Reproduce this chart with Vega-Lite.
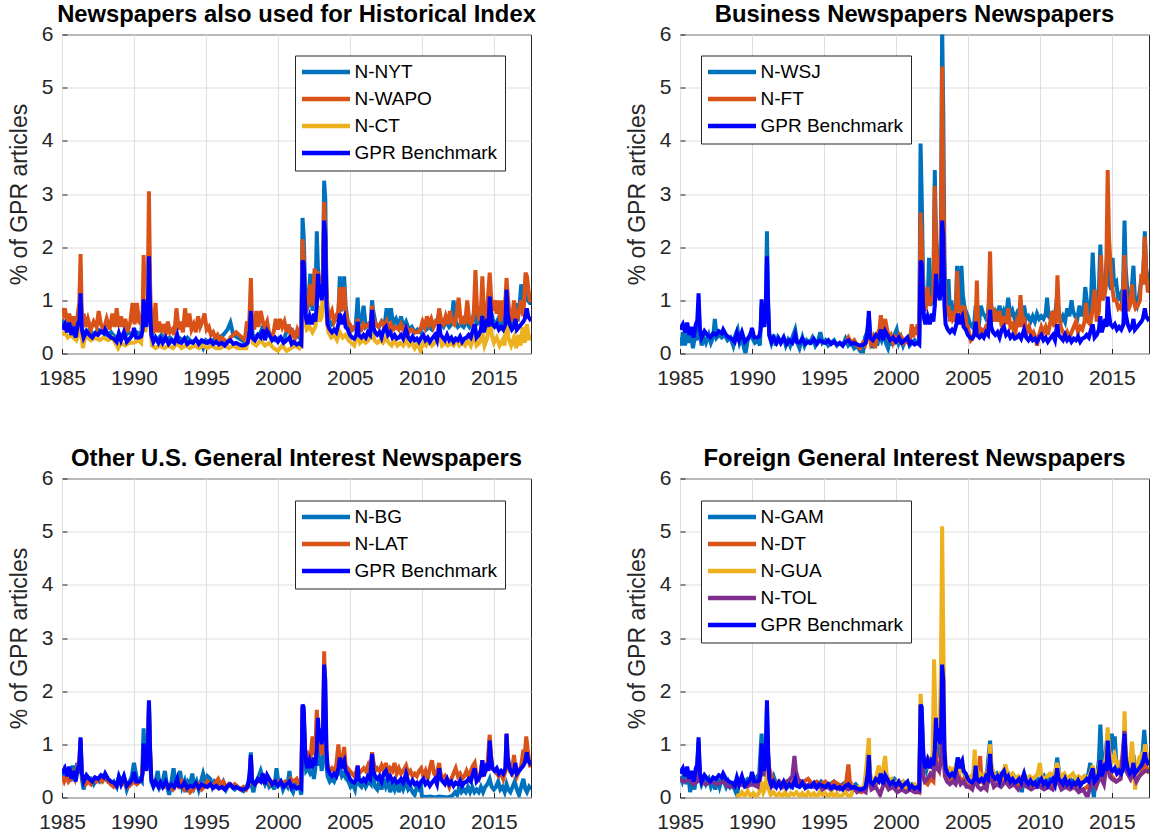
{
"$schema": "https://vega.github.io/schema/vega-lite/v6.json",
"padding": {"left": 7, "top": 2.5, "right": 0, "bottom": 0},
"background": "white",
"config": {
 "font": "Liberation Sans",
 "view": {"stroke": "#262626", "strokeWidth": 1},
 "axis": {"labelFont": "Liberation Sans", "labelFontSize": 21, "labelColor": "#262626", "ticks": true, "tickSize": -5, "tickColor": "#262626", "tickWidth": 1, "domain": false, "gridColor": "#dfdfdf", "gridWidth": 1, "titleFont": "Liberation Sans", "titleFontSize": 23, "titleFontWeight": "normal", "titleColor": "#262626", "labelFlush": false, "labelOverlap": false},
 "axisX": {"labelPadding": 19},
 "axisY": {"labelPadding": 14, "titlePadding": 10},
 "title": {"font": "Liberation Sans", "fontSize": 23.8, "fontWeight": "bold", "color": "black", "offset": -3.5, "baseline": "alphabetic"},
 "legend": {"orient": "none", "title": null, "labelFont": "Liberation Sans", "labelFontSize": 19, "labelColor": "black", "strokeColor": "#262626", "fillColor": "white", "padding": 7, "rowPadding": 7, "labelLimit": 400}
},
"datasets": {
"gpr": [
{"t":1985.0,"v":0.45},{"t":1985.2,"v":0.55},{"t":1985.35,"v":0.4},{"t":1985.5,"v":0.58},{"t":1985.65,"v":0.35},{"t":1985.8,"v":0.5},{"t":1985.95,"v":0.3},{"t":1986.1,"v":0.55},{"t":1986.2,"v":0.62},{"t":1986.29,"v":1.13},{"t":1986.38,"v":0.45},{"t":1986.5,"v":0.3},{"t":1986.7,"v":0.42},{"t":1986.9,"v":0.35},{"t":1987.1,"v":0.3},{"t":1987.3,"v":0.38},{"t":1987.5,"v":0.35},{"t":1987.7,"v":0.42},{"t":1987.9,"v":0.38},{"t":1988.0,"v":0.45},{"t":1988.2,"v":0.35},{"t":1988.4,"v":0.3},{"t":1988.6,"v":0.28},{"t":1988.8,"v":0.22},{"t":1988.95,"v":0.38},{"t":1989.1,"v":0.25},{"t":1989.3,"v":0.4},{"t":1989.5,"v":0.22},{"t":1989.7,"v":0.28},{"t":1989.9,"v":0.35},{"t":1990.0,"v":0.48},{"t":1990.15,"v":0.3},{"t":1990.35,"v":0.3},{"t":1990.5,"v":0.32},{"t":1990.6,"v":0.45},{"t":1990.67,"v":1.02},{"t":1990.75,"v":0.7},{"t":1990.85,"v":0.5},{"t":1990.96,"v":0.8},{"t":1991.04,"v":1.83},{"t":1991.12,"v":0.9},{"t":1991.2,"v":0.35},{"t":1991.35,"v":0.22},{"t":1991.5,"v":0.3},{"t":1991.7,"v":0.2},{"t":1991.85,"v":0.28},{"t":1992.0,"v":0.2},{"t":1992.2,"v":0.3},{"t":1992.4,"v":0.18},{"t":1992.6,"v":0.25},{"t":1992.8,"v":0.2},{"t":1993.0,"v":0.35},{"t":1993.1,"v":0.22},{"t":1993.3,"v":0.2},{"t":1993.5,"v":0.28},{"t":1993.7,"v":0.18},{"t":1993.9,"v":0.22},{"t":1994.1,"v":0.2},{"t":1994.3,"v":0.27},{"t":1994.5,"v":0.18},{"t":1994.7,"v":0.25},{"t":1994.9,"v":0.22},{"t":1995.1,"v":0.2},{"t":1995.3,"v":0.25},{"t":1995.5,"v":0.18},{"t":1995.7,"v":0.22},{"t":1995.9,"v":0.17},{"t":1996.1,"v":0.2},{"t":1996.3,"v":0.15},{"t":1996.5,"v":0.22},{"t":1996.7,"v":0.25},{"t":1996.9,"v":0.18},{"t":1997.1,"v":0.2},{"t":1997.3,"v":0.17},{"t":1997.5,"v":0.15},{"t":1997.7,"v":0.16},{"t":1997.9,"v":0.2},{"t":1998.04,"v":0.45},{"t":1998.12,"v":0.8},{"t":1998.2,"v":0.3},{"t":1998.4,"v":0.25},{"t":1998.6,"v":0.35},{"t":1998.8,"v":0.3},{"t":1998.95,"v":0.45},{"t":1999.1,"v":0.25},{"t":1999.25,"v":0.42},{"t":1999.4,"v":0.35},{"t":1999.6,"v":0.25},{"t":1999.8,"v":0.3},{"t":2000.0,"v":0.22},{"t":2000.2,"v":0.3},{"t":2000.4,"v":0.2},{"t":2000.6,"v":0.25},{"t":2000.8,"v":0.3},{"t":2000.95,"v":0.18},{"t":2001.1,"v":0.22},{"t":2001.3,"v":0.17},{"t":2001.5,"v":0.2},{"t":2001.62,"v":0.17},{"t":2001.71,"v":1.75},{"t":2001.79,"v":1.7},{"t":2001.88,"v":0.95},{"t":2001.96,"v":0.65},{"t":2002.05,"v":0.55},{"t":2002.2,"v":0.7},{"t":2002.35,"v":0.55},{"t":2002.5,"v":0.75},{"t":2002.6,"v":0.6},{"t":2002.7,"v":0.9},{"t":2002.78,"v":1.5},{"t":2002.87,"v":1.05},{"t":2002.96,"v":1.3},{"t":2003.04,"v":1.0},{"t":2003.13,"v":1.2},{"t":2003.21,"v":2.5},{"t":2003.29,"v":2.2},{"t":2003.37,"v":0.9},{"t":2003.45,"v":0.55},{"t":2003.6,"v":0.45},{"t":2003.75,"v":0.4},{"t":2003.9,"v":0.45},{"t":2004.05,"v":0.4},{"t":2004.2,"v":0.55},{"t":2004.3,"v":0.75},{"t":2004.4,"v":0.55},{"t":2004.5,"v":0.65},{"t":2004.6,"v":0.7},{"t":2004.7,"v":0.5},{"t":2004.85,"v":0.45},{"t":2005.0,"v":0.35},{"t":2005.15,"v":0.3},{"t":2005.3,"v":0.28},{"t":2005.45,"v":0.35},{"t":2005.54,"v":0.6},{"t":2005.62,"v":0.35},{"t":2005.8,"v":0.3},{"t":2005.95,"v":0.35},{"t":2006.1,"v":0.3},{"t":2006.25,"v":0.4},{"t":2006.4,"v":0.35},{"t":2006.54,"v":0.82},{"t":2006.62,"v":0.5},{"t":2006.75,"v":0.4},{"t":2006.9,"v":0.35},{"t":2007.05,"v":0.4},{"t":2007.2,"v":0.3},{"t":2007.35,"v":0.45},{"t":2007.5,"v":0.5},{"t":2007.65,"v":0.35},{"t":2007.8,"v":0.4},{"t":2007.95,"v":0.3},{"t":2008.1,"v":0.35},{"t":2008.25,"v":0.28},{"t":2008.4,"v":0.3},{"t":2008.55,"v":0.35},{"t":2008.7,"v":0.28},{"t":2008.9,"v":0.45},{"t":2009.05,"v":0.3},{"t":2009.2,"v":0.25},{"t":2009.35,"v":0.32},{"t":2009.5,"v":0.25},{"t":2009.65,"v":0.28},{"t":2009.8,"v":0.22},{"t":2009.95,"v":0.3},{"t":2010.1,"v":0.35},{"t":2010.25,"v":0.25},{"t":2010.4,"v":0.3},{"t":2010.55,"v":0.22},{"t":2010.7,"v":0.28},{"t":2010.9,"v":0.35},{"t":2011.05,"v":0.25},{"t":2011.2,"v":0.55},{"t":2011.3,"v":0.35},{"t":2011.45,"v":0.3},{"t":2011.6,"v":0.25},{"t":2011.75,"v":0.35},{"t":2011.9,"v":0.25},{"t":2012.05,"v":0.3},{"t":2012.2,"v":0.22},{"t":2012.35,"v":0.28},{"t":2012.5,"v":0.25},{"t":2012.65,"v":0.32},{"t":2012.8,"v":0.22},{"t":2012.95,"v":0.28},{"t":2013.1,"v":0.3},{"t":2013.25,"v":0.35},{"t":2013.4,"v":0.3},{"t":2013.55,"v":0.45},{"t":2013.67,"v":0.55},{"t":2013.8,"v":0.3},{"t":2013.95,"v":0.35},{"t":2014.1,"v":0.45},{"t":2014.2,"v":0.7},{"t":2014.3,"v":0.4},{"t":2014.45,"v":0.55},{"t":2014.55,"v":0.65},{"t":2014.63,"v":0.5},{"t":2014.71,"v":1.07},{"t":2014.8,"v":0.75},{"t":2014.9,"v":0.55},{"t":2015.05,"v":0.5},{"t":2015.2,"v":0.55},{"t":2015.35,"v":0.45},{"t":2015.5,"v":0.5},{"t":2015.65,"v":0.45},{"t":2015.8,"v":0.55},{"t":2015.88,"v":1.2},{"t":2015.96,"v":0.75},{"t":2016.1,"v":0.55},{"t":2016.25,"v":0.45},{"t":2016.4,"v":0.5},{"t":2016.5,"v":0.65},{"t":2016.6,"v":0.45},{"t":2016.75,"v":0.5},{"t":2016.9,"v":0.55},{"t":2017.05,"v":0.6},{"t":2017.15,"v":0.65},{"t":2017.29,"v":0.85},{"t":2017.38,"v":0.7},{"t":2017.5,"v":0.65},{"t":2017.58,"v":0.68}
],
"nyt": [
{"t":1985.0,"v":0.65},{"t":1985.2,"v":0.5},{"t":1985.4,"v":0.6},{"t":1985.6,"v":0.45},{"t":1985.8,"v":0.55},{"t":1986.0,"v":0.4},{"t":1986.2,"v":0.6},{"t":1986.29,"v":1.15},{"t":1986.4,"v":0.45},{"t":1986.6,"v":0.35},{"t":1986.9,"v":0.45},{"t":1987.2,"v":0.35},{"t":1987.5,"v":0.45},{"t":1987.8,"v":0.4},{"t":1988.1,"v":0.35},{"t":1988.4,"v":0.4},{"t":1988.7,"v":0.3},{"t":1989.0,"v":0.35},{"t":1989.3,"v":0.3},{"t":1989.6,"v":0.4},{"t":1989.9,"v":0.35},{"t":1990.2,"v":0.4},{"t":1990.5,"v":0.35},{"t":1990.67,"v":1.0},{"t":1990.8,"v":0.55},{"t":1990.96,"v":0.7},{"t":1991.04,"v":1.75},{"t":1991.15,"v":0.7},{"t":1991.3,"v":0.3},{"t":1991.6,"v":0.25},{"t":1991.9,"v":0.35},{"t":1992.2,"v":0.25},{"t":1992.5,"v":0.3},{"t":1992.8,"v":0.22},{"t":1993.1,"v":0.3},{"t":1993.4,"v":0.25},{"t":1993.7,"v":0.3},{"t":1994.0,"v":0.22},{"t":1994.3,"v":0.25},{"t":1994.6,"v":0.2},{"t":1994.8,"v":0.1},{"t":1995.0,"v":0.25},{"t":1995.3,"v":0.2},{"t":1995.6,"v":0.28},{"t":1995.9,"v":0.3},{"t":1996.2,"v":0.35},{"t":1996.5,"v":0.45},{"t":1996.7,"v":0.58},{"t":1996.9,"v":0.35},{"t":1997.2,"v":0.3},{"t":1997.5,"v":0.25},{"t":1997.8,"v":0.2},{"t":1998.04,"v":0.4},{"t":1998.12,"v":0.75},{"t":1998.25,"v":0.35},{"t":1998.5,"v":0.3},{"t":1998.8,"v":0.4},{"t":1998.95,"v":0.5},{"t":1999.25,"v":0.45},{"t":1999.5,"v":0.35},{"t":1999.8,"v":0.25},{"t":2000.1,"v":0.3},{"t":2000.4,"v":0.25},{"t":2000.7,"v":0.5},{"t":2000.95,"v":0.45},{"t":2001.2,"v":0.35},{"t":2001.5,"v":0.3},{"t":2001.62,"v":0.25},{"t":2001.71,"v":2.55},{"t":2001.79,"v":2.2},{"t":2001.88,"v":1.3},{"t":2001.96,"v":0.8},{"t":2002.1,"v":0.9},{"t":2002.25,"v":1.5},{"t":2002.4,"v":0.8},{"t":2002.5,"v":1.5},{"t":2002.6,"v":0.9},{"t":2002.7,"v":2.3},{"t":2002.78,"v":1.6},{"t":2002.87,"v":1.1},{"t":2002.96,"v":1.4},{"t":2003.04,"v":1.3},{"t":2003.13,"v":1.5},{"t":2003.21,"v":3.25},{"t":2003.29,"v":2.9},{"t":2003.37,"v":1.2},{"t":2003.45,"v":0.8},{"t":2003.6,"v":0.6},{"t":2003.75,"v":0.55},{"t":2003.9,"v":0.6},{"t":2004.05,"v":0.65},{"t":2004.2,"v":0.7},{"t":2004.3,"v":1.45},{"t":2004.4,"v":0.8},{"t":2004.5,"v":0.9},{"t":2004.6,"v":1.45},{"t":2004.7,"v":0.9},{"t":2004.85,"v":0.6},{"t":2005.0,"v":0.5},{"t":2005.2,"v":0.45},{"t":2005.4,"v":0.5},{"t":2005.54,"v":1.05},{"t":2005.62,"v":0.55},{"t":2005.8,"v":0.6},{"t":2005.95,"v":0.9},{"t":2006.1,"v":0.5},{"t":2006.3,"v":0.55},{"t":2006.45,"v":0.6},{"t":2006.54,"v":1.0},{"t":2006.62,"v":0.8},{"t":2006.8,"v":0.55},{"t":2007.0,"v":0.5},{"t":2007.2,"v":0.6},{"t":2007.4,"v":0.5},{"t":2007.55,"v":0.85},{"t":2007.7,"v":0.6},{"t":2007.85,"v":0.85},{"t":2008.0,"v":0.55},{"t":2008.2,"v":0.65},{"t":2008.4,"v":0.5},{"t":2008.55,"v":0.7},{"t":2008.7,"v":0.5},{"t":2008.9,"v":0.6},{"t":2009.1,"v":0.45},{"t":2009.3,"v":0.5},{"t":2009.5,"v":0.4},{"t":2009.7,"v":0.45},{"t":2009.9,"v":0.4},{"t":2010.1,"v":0.55},{"t":2010.3,"v":0.45},{"t":2010.5,"v":0.5},{"t":2010.7,"v":0.45},{"t":2010.9,"v":0.55},{"t":2011.1,"v":0.6},{"t":2011.2,"v":0.8},{"t":2011.35,"v":0.55},{"t":2011.5,"v":0.5},{"t":2011.7,"v":0.6},{"t":2011.9,"v":0.5},{"t":2012.05,"v":0.55},{"t":2012.2,"v":1.0},{"t":2012.35,"v":0.6},{"t":2012.5,"v":0.5},{"t":2012.7,"v":0.55},{"t":2012.9,"v":0.5},{"t":2013.1,"v":0.6},{"t":2013.3,"v":0.5},{"t":2013.5,"v":0.6},{"t":2013.67,"v":0.85},{"t":2013.8,"v":0.55},{"t":2014.0,"v":0.6},{"t":2014.2,"v":0.75},{"t":2014.35,"v":0.55},{"t":2014.55,"v":0.7},{"t":2014.71,"v":1.05},{"t":2014.8,"v":0.8},{"t":2014.95,"v":0.6},{"t":2015.1,"v":0.55},{"t":2015.3,"v":0.65},{"t":2015.5,"v":0.55},{"t":2015.7,"v":0.6},{"t":2015.88,"v":1.2},{"t":2016.0,"v":0.8},{"t":2016.15,"v":0.6},{"t":2016.3,"v":0.55},{"t":2016.5,"v":0.95},{"t":2016.65,"v":0.6},{"t":2016.8,"v":0.95},{"t":2016.9,"v":1.3},{"t":2017.05,"v":1.0},{"t":2017.2,"v":1.1},{"t":2017.35,"v":1.0},{"t":2017.5,"v":0.95},{"t":2017.58,"v":0.95}
],
"wapo": [
{"t":1985.0,"v":0.85},{"t":1985.1,"v":0.75},{"t":1985.2,"v":0.85},{"t":1985.35,"v":0.6},{"t":1985.5,"v":0.75},{"t":1985.65,"v":0.55},{"t":1985.8,"v":0.7},{"t":1985.95,"v":0.5},{"t":1986.1,"v":0.75},{"t":1986.2,"v":0.95},{"t":1986.29,"v":1.87},{"t":1986.38,"v":0.6},{"t":1986.5,"v":0.75},{"t":1986.65,"v":0.5},{"t":1986.8,"v":0.65},{"t":1987.0,"v":0.45},{"t":1987.2,"v":0.6},{"t":1987.4,"v":0.5},{"t":1987.55,"v":0.8},{"t":1987.7,"v":0.55},{"t":1987.9,"v":0.45},{"t":1988.1,"v":0.65},{"t":1988.3,"v":0.45},{"t":1988.5,"v":0.75},{"t":1988.65,"v":0.5},{"t":1988.8,"v":0.85},{"t":1988.95,"v":0.5},{"t":1989.1,"v":0.7},{"t":1989.25,"v":0.5},{"t":1989.4,"v":0.65},{"t":1989.55,"v":0.4},{"t":1989.75,"v":0.6},{"t":1989.9,"v":0.95},{"t":1990.05,"v":0.55},{"t":1990.2,"v":0.95},{"t":1990.35,"v":0.6},{"t":1990.5,"v":0.55},{"t":1990.6,"v":0.75},{"t":1990.67,"v":1.85},{"t":1990.75,"v":1.1},{"t":1990.85,"v":0.8},{"t":1990.96,"v":1.2},{"t":1991.04,"v":3.05},{"t":1991.12,"v":1.3},{"t":1991.2,"v":0.5},{"t":1991.35,"v":0.45},{"t":1991.5,"v":0.95},{"t":1991.6,"v":0.4},{"t":1991.75,"v":0.6},{"t":1991.9,"v":0.4},{"t":1992.05,"v":0.55},{"t":1992.2,"v":0.35},{"t":1992.35,"v":0.6},{"t":1992.5,"v":0.4},{"t":1992.65,"v":0.45},{"t":1992.8,"v":0.35},{"t":1992.95,"v":0.85},{"t":1993.1,"v":0.45},{"t":1993.25,"v":0.6},{"t":1993.4,"v":0.4},{"t":1993.55,"v":0.85},{"t":1993.7,"v":0.5},{"t":1993.85,"v":0.75},{"t":1994.0,"v":0.45},{"t":1994.15,"v":0.55},{"t":1994.3,"v":0.4},{"t":1994.45,"v":0.7},{"t":1994.6,"v":0.5},{"t":1994.75,"v":0.6},{"t":1994.9,"v":0.75},{"t":1995.05,"v":0.45},{"t":1995.2,"v":0.5},{"t":1995.35,"v":0.35},{"t":1995.5,"v":0.4},{"t":1995.65,"v":0.3},{"t":1995.8,"v":0.35},{"t":1995.95,"v":0.25},{"t":1996.1,"v":0.3},{"t":1996.3,"v":0.25},{"t":1996.5,"v":0.2},{"t":1996.7,"v":0.3},{"t":1996.9,"v":0.35},{"t":1997.1,"v":0.4},{"t":1997.3,"v":0.35},{"t":1997.5,"v":0.3},{"t":1997.7,"v":0.25},{"t":1997.85,"v":0.6},{"t":1998.0,"v":0.5},{"t":1998.12,"v":1.42},{"t":1998.2,"v":0.6},{"t":1998.35,"v":0.45},{"t":1998.5,"v":0.8},{"t":1998.65,"v":0.5},{"t":1998.8,"v":0.8},{"t":1998.95,"v":0.6},{"t":1999.1,"v":0.5},{"t":1999.25,"v":0.6},{"t":1999.4,"v":0.35},{"t":1999.55,"v":0.3},{"t":1999.7,"v":0.4},{"t":1999.85,"v":0.65},{"t":2000.0,"v":0.45},{"t":2000.15,"v":0.65},{"t":2000.3,"v":0.5},{"t":2000.45,"v":0.6},{"t":2000.6,"v":0.4},{"t":2000.75,"v":0.55},{"t":2000.9,"v":0.3},{"t":2001.05,"v":0.4},{"t":2001.2,"v":0.3},{"t":2001.35,"v":0.45},{"t":2001.5,"v":0.35},{"t":2001.62,"v":0.3},{"t":2001.71,"v":2.15},{"t":2001.79,"v":1.8},{"t":2001.88,"v":1.0},{"t":2001.96,"v":0.8},{"t":2002.1,"v":0.95},{"t":2002.25,"v":1.3},{"t":2002.4,"v":0.9},{"t":2002.55,"v":1.6},{"t":2002.65,"v":1.0},{"t":2002.75,"v":1.55},{"t":2002.87,"v":1.2},{"t":2002.96,"v":1.35},{"t":2003.04,"v":1.25},{"t":2003.13,"v":1.6},{"t":2003.21,"v":2.85},{"t":2003.29,"v":2.3},{"t":2003.37,"v":1.2},{"t":2003.45,"v":0.8},{"t":2003.6,"v":0.7},{"t":2003.75,"v":0.8},{"t":2003.9,"v":0.6},{"t":2004.05,"v":0.7},{"t":2004.2,"v":0.8},{"t":2004.3,"v":1.25},{"t":2004.4,"v":0.85},{"t":2004.5,"v":0.9},{"t":2004.6,"v":1.25},{"t":2004.7,"v":0.8},{"t":2004.85,"v":0.6},{"t":2005.0,"v":0.55},{"t":2005.15,"v":0.45},{"t":2005.3,"v":0.5},{"t":2005.45,"v":0.5},{"t":2005.54,"v":0.65},{"t":2005.62,"v":0.5},{"t":2005.8,"v":0.45},{"t":2005.95,"v":0.55},{"t":2006.1,"v":0.5},{"t":2006.3,"v":0.55},{"t":2006.45,"v":0.45},{"t":2006.54,"v":0.9},{"t":2006.62,"v":0.65},{"t":2006.8,"v":0.55},{"t":2007.0,"v":0.5},{"t":2007.2,"v":0.6},{"t":2007.4,"v":0.5},{"t":2007.55,"v":0.6},{"t":2007.7,"v":0.45},{"t":2007.85,"v":0.55},{"t":2008.0,"v":0.45},{"t":2008.2,"v":0.5},{"t":2008.4,"v":0.45},{"t":2008.55,"v":0.55},{"t":2008.7,"v":0.45},{"t":2008.9,"v":0.5},{"t":2009.1,"v":0.4},{"t":2009.3,"v":0.45},{"t":2009.5,"v":0.4},{"t":2009.7,"v":0.4},{"t":2009.9,"v":0.45},{"t":2010.05,"v":0.6},{"t":2010.2,"v":0.5},{"t":2010.35,"v":0.7},{"t":2010.5,"v":0.55},{"t":2010.65,"v":0.65},{"t":2010.8,"v":0.5},{"t":2010.95,"v":0.6},{"t":2011.1,"v":0.55},{"t":2011.2,"v":0.85},{"t":2011.35,"v":0.6},{"t":2011.5,"v":0.55},{"t":2011.65,"v":0.7},{"t":2011.8,"v":0.55},{"t":2011.95,"v":0.8},{"t":2012.1,"v":0.6},{"t":2012.25,"v":0.55},{"t":2012.4,"v":0.7},{"t":2012.55,"v":1.05},{"t":2012.7,"v":0.6},{"t":2012.85,"v":0.65},{"t":2013.0,"v":0.55},{"t":2013.15,"v":1.0},{"t":2013.3,"v":0.6},{"t":2013.45,"v":0.55},{"t":2013.6,"v":0.7},{"t":2013.72,"v":1.57},{"t":2013.82,"v":0.9},{"t":2013.95,"v":0.7},{"t":2014.1,"v":0.8},{"t":2014.2,"v":1.45},{"t":2014.3,"v":0.8},{"t":2014.45,"v":0.6},{"t":2014.55,"v":0.9},{"t":2014.71,"v":1.52},{"t":2014.8,"v":1.1},{"t":2014.9,"v":0.8},{"t":2015.05,"v":1.0},{"t":2015.2,"v":0.75},{"t":2015.3,"v":1.0},{"t":2015.45,"v":0.6},{"t":2015.6,"v":1.0},{"t":2015.75,"v":0.7},{"t":2015.88,"v":1.42},{"t":2015.96,"v":1.1},{"t":2016.1,"v":0.7},{"t":2016.25,"v":0.6},{"t":2016.4,"v":1.0},{"t":2016.5,"v":0.7},{"t":2016.6,"v":0.6},{"t":2016.75,"v":0.8},{"t":2016.9,"v":1.0},{"t":2017.05,"v":0.7},{"t":2017.2,"v":1.52},{"t":2017.3,"v":1.45},{"t":2017.4,"v":1.2},{"t":2017.5,"v":1.0},{"t":2017.58,"v":1.0}
],
"ct": [
{"t":1985.0,"v":0.35},{"t":1985.2,"v":0.4},{"t":1985.4,"v":0.3},{"t":1985.6,"v":0.35},{"t":1985.8,"v":0.3},{"t":1986.0,"v":0.25},{"t":1986.15,"v":0.35},{"t":1986.29,"v":1.1},{"t":1986.38,"v":0.3},{"t":1986.45,"v":0.1},{"t":1986.6,"v":0.3},{"t":1986.8,"v":0.3},{"t":1987.0,"v":0.25},{"t":1987.3,"v":0.3},{"t":1987.6,"v":0.25},{"t":1987.9,"v":0.3},{"t":1988.2,"v":0.25},{"t":1988.5,"v":0.3},{"t":1988.7,"v":0.2},{"t":1988.9,"v":0.1},{"t":1989.1,"v":0.2},{"t":1989.4,"v":0.15},{"t":1989.7,"v":0.2},{"t":1990.0,"v":0.2},{"t":1990.3,"v":0.25},{"t":1990.5,"v":0.2},{"t":1990.67,"v":0.85},{"t":1990.8,"v":0.4},{"t":1991.04,"v":1.7},{"t":1991.15,"v":0.5},{"t":1991.25,"v":0.15},{"t":1991.5,"v":0.1},{"t":1991.8,"v":0.15},{"t":1992.1,"v":0.1},{"t":1992.4,"v":0.15},{"t":1992.7,"v":0.1},{"t":1993.0,"v":0.2},{"t":1993.3,"v":0.1},{"t":1993.6,"v":0.15},{"t":1993.9,"v":0.1},{"t":1994.2,"v":0.15},{"t":1994.5,"v":0.1},{"t":1994.8,"v":0.15},{"t":1995.1,"v":0.1},{"t":1995.4,"v":0.15},{"t":1995.7,"v":0.1},{"t":1996.0,"v":0.1},{"t":1996.3,"v":0.15},{"t":1996.6,"v":0.1},{"t":1996.9,"v":0.15},{"t":1997.2,"v":0.1},{"t":1997.5,"v":0.1},{"t":1997.8,"v":0.1},{"t":1998.12,"v":0.6},{"t":1998.25,"v":0.2},{"t":1998.5,"v":0.15},{"t":1998.8,"v":0.25},{"t":1999.1,"v":0.15},{"t":1999.4,"v":0.2},{"t":1999.7,"v":0.1},{"t":2000.0,"v":0.05},{"t":2000.3,"v":0.15},{"t":2000.6,"v":0.05},{"t":2000.9,"v":0.1},{"t":2001.2,"v":0.15},{"t":2001.5,"v":0.1},{"t":2001.62,"v":0.15},{"t":2001.71,"v":1.55},{"t":2001.79,"v":1.4},{"t":2001.88,"v":0.6},{"t":2002.0,"v":0.45},{"t":2002.2,"v":0.5},{"t":2002.4,"v":0.4},{"t":2002.6,"v":0.5},{"t":2002.78,"v":0.9},{"t":2002.9,"v":0.6},{"t":2003.05,"v":0.7},{"t":2003.21,"v":2.0},{"t":2003.29,"v":1.6},{"t":2003.4,"v":0.6},{"t":2003.5,"v":0.4},{"t":2003.7,"v":0.3},{"t":2003.9,"v":0.35},{"t":2004.1,"v":0.25},{"t":2004.3,"v":0.4},{"t":2004.5,"v":0.3},{"t":2004.7,"v":0.35},{"t":2004.9,"v":0.25},{"t":2005.1,"v":0.2},{"t":2005.3,"v":0.15},{"t":2005.54,"v":0.4},{"t":2005.7,"v":0.2},{"t":2005.9,"v":0.25},{"t":2006.1,"v":0.2},{"t":2006.3,"v":0.25},{"t":2006.54,"v":0.5},{"t":2006.7,"v":0.25},{"t":2006.9,"v":0.2},{"t":2007.1,"v":0.25},{"t":2007.3,"v":0.2},{"t":2007.5,"v":0.3},{"t":2007.7,"v":0.2},{"t":2007.9,"v":0.15},{"t":2008.1,"v":0.25},{"t":2008.3,"v":0.15},{"t":2008.5,"v":0.2},{"t":2008.7,"v":0.15},{"t":2008.9,"v":0.25},{"t":2009.1,"v":0.15},{"t":2009.3,"v":0.2},{"t":2009.5,"v":0.1},{"t":2009.7,"v":0.2},{"t":2009.9,"v":0.05},{"t":2010.1,"v":0.2},{"t":2010.3,"v":0.15},{"t":2010.5,"v":0.25},{"t":2010.7,"v":0.15},{"t":2010.9,"v":0.2},{"t":2011.2,"v":0.35},{"t":2011.4,"v":0.15},{"t":2011.6,"v":0.2},{"t":2011.8,"v":0.15},{"t":2012.0,"v":0.2},{"t":2012.2,"v":0.15},{"t":2012.4,"v":0.25},{"t":2012.6,"v":0.15},{"t":2012.8,"v":0.2},{"t":2013.0,"v":0.15},{"t":2013.2,"v":0.25},{"t":2013.4,"v":0.15},{"t":2013.67,"v":0.35},{"t":2013.8,"v":0.15},{"t":2014.0,"v":0.2},{"t":2014.2,"v":0.4},{"t":2014.35,"v":0.15},{"t":2014.55,"v":0.3},{"t":2014.71,"v":0.8},{"t":2014.85,"v":0.35},{"t":2015.0,"v":0.2},{"t":2015.2,"v":0.3},{"t":2015.4,"v":0.15},{"t":2015.6,"v":0.25},{"t":2015.75,"v":0.15},{"t":2015.88,"v":0.9},{"t":2016.0,"v":0.3},{"t":2016.2,"v":0.15},{"t":2016.4,"v":0.3},{"t":2016.55,"v":0.1},{"t":2016.7,"v":0.35},{"t":2016.85,"v":0.15},{"t":2017.0,"v":0.5},{"t":2017.15,"v":0.2},{"t":2017.3,"v":0.55},{"t":2017.45,"v":0.25},{"t":2017.58,"v":0.35}
],
"wsj": [
{"t":1985.0,"v":0.3},{"t":1985.1,"v":0.15},{"t":1985.2,"v":0.4},{"t":1985.35,"v":0.15},{"t":1985.5,"v":0.45},{"t":1985.6,"v":0.2},{"t":1985.75,"v":0.4},{"t":1985.9,"v":0.1},{"t":1986.05,"v":0.35},{"t":1986.2,"v":0.25},{"t":1986.29,"v":0.95},{"t":1986.38,"v":0.4},{"t":1986.5,"v":0.15},{"t":1986.65,"v":0.3},{"t":1986.8,"v":0.2},{"t":1987.0,"v":0.35},{"t":1987.15,"v":0.2},{"t":1987.3,"v":0.3},{"t":1987.42,"v":0.65},{"t":1987.55,"v":0.3},{"t":1987.7,"v":0.35},{"t":1987.9,"v":0.3},{"t":1988.1,"v":0.35},{"t":1988.3,"v":0.25},{"t":1988.5,"v":0.3},{"t":1988.7,"v":0.15},{"t":1988.85,"v":0.35},{"t":1989.0,"v":0.45},{"t":1989.15,"v":0.2},{"t":1989.3,"v":0.3},{"t":1989.45,"v":0.1},{"t":1989.55,"v":0.0},{"t":1989.7,"v":0.25},{"t":1989.85,"v":0.35},{"t":1990.0,"v":0.3},{"t":1990.2,"v":0.2},{"t":1990.4,"v":0.25},{"t":1990.55,"v":0.15},{"t":1990.67,"v":0.9},{"t":1990.75,"v":0.6},{"t":1990.85,"v":0.5},{"t":1990.96,"v":0.9},{"t":1991.04,"v":2.3},{"t":1991.12,"v":1.0},{"t":1991.2,"v":0.35},{"t":1991.35,"v":0.2},{"t":1991.5,"v":0.35},{"t":1991.65,"v":0.15},{"t":1991.8,"v":0.3},{"t":1992.0,"v":0.2},{"t":1992.2,"v":0.3},{"t":1992.35,"v":0.15},{"t":1992.5,"v":0.25},{"t":1992.65,"v":0.15},{"t":1992.8,"v":0.3},{"t":1993.0,"v":0.45},{"t":1993.15,"v":0.2},{"t":1993.3,"v":0.1},{"t":1993.5,"v":0.3},{"t":1993.65,"v":0.15},{"t":1993.8,"v":0.25},{"t":1994.0,"v":0.2},{"t":1994.2,"v":0.3},{"t":1994.4,"v":0.15},{"t":1994.6,"v":0.25},{"t":1994.75,"v":0.4},{"t":1994.9,"v":0.2},{"t":1995.1,"v":0.25},{"t":1995.3,"v":0.15},{"t":1995.5,"v":0.2},{"t":1995.7,"v":0.25},{"t":1995.9,"v":0.15},{"t":1996.1,"v":0.2},{"t":1996.3,"v":0.15},{"t":1996.5,"v":0.28},{"t":1996.7,"v":0.15},{"t":1996.9,"v":0.2},{"t":1997.1,"v":0.1},{"t":1997.3,"v":0.15},{"t":1997.5,"v":0.05},{"t":1997.7,"v":0.0},{"t":1997.85,"v":0.3},{"t":1998.0,"v":0.4},{"t":1998.12,"v":0.7},{"t":1998.25,"v":0.3},{"t":1998.4,"v":0.1},{"t":1998.55,"v":0.3},{"t":1998.7,"v":0.15},{"t":1998.85,"v":0.35},{"t":1999.0,"v":0.25},{"t":1999.15,"v":0.4},{"t":1999.3,"v":0.2},{"t":1999.45,"v":0.1},{"t":1999.6,"v":0.3},{"t":1999.75,"v":0.15},{"t":1999.9,"v":0.35},{"t":2000.05,"v":0.45},{"t":2000.2,"v":0.2},{"t":2000.35,"v":0.3},{"t":2000.5,"v":0.15},{"t":2000.65,"v":0.25},{"t":2000.8,"v":0.3},{"t":2000.95,"v":0.15},{"t":2001.1,"v":0.2},{"t":2001.3,"v":0.25},{"t":2001.45,"v":0.2},{"t":2001.62,"v":0.2},{"t":2001.71,"v":3.95},{"t":2001.79,"v":3.0},{"t":2001.88,"v":1.5},{"t":2001.96,"v":0.9},{"t":2002.05,"v":1.2},{"t":2002.2,"v":0.9},{"t":2002.3,"v":1.8},{"t":2002.4,"v":0.9},{"t":2002.5,"v":1.0},{"t":2002.6,"v":1.2},{"t":2002.7,"v":3.45},{"t":2002.78,"v":2.2},{"t":2002.87,"v":1.3},{"t":2002.96,"v":1.6},{"t":2003.04,"v":1.4},{"t":2003.13,"v":2.5},{"t":2003.21,"v":6.2},{"t":2003.29,"v":4.5},{"t":2003.37,"v":1.8},{"t":2003.45,"v":1.0},{"t":2003.55,"v":0.8},{"t":2003.65,"v":1.4},{"t":2003.75,"v":0.8},{"t":2003.85,"v":1.0},{"t":2003.95,"v":0.7},{"t":2004.05,"v":0.9},{"t":2004.15,"v":0.8},{"t":2004.25,"v":1.65},{"t":2004.35,"v":1.0},{"t":2004.45,"v":0.9},{"t":2004.55,"v":1.65},{"t":2004.65,"v":1.1},{"t":2004.75,"v":0.9},{"t":2004.85,"v":0.8},{"t":2005.0,"v":0.7},{"t":2005.15,"v":0.55},{"t":2005.3,"v":0.5},{"t":2005.45,"v":0.6},{"t":2005.54,"v":0.9},{"t":2005.62,"v":0.7},{"t":2005.75,"v":0.5},{"t":2005.9,"v":0.9},{"t":2006.05,"v":0.75},{"t":2006.2,"v":0.7},{"t":2006.35,"v":0.6},{"t":2006.54,"v":1.2},{"t":2006.62,"v":0.9},{"t":2006.75,"v":0.7},{"t":2006.9,"v":0.8},{"t":2007.05,"v":0.75},{"t":2007.2,"v":0.9},{"t":2007.35,"v":0.65},{"t":2007.5,"v":0.8},{"t":2007.65,"v":0.7},{"t":2007.8,"v":1.05},{"t":2007.95,"v":0.7},{"t":2008.1,"v":0.8},{"t":2008.25,"v":0.65},{"t":2008.4,"v":0.75},{"t":2008.55,"v":0.6},{"t":2008.7,"v":0.7},{"t":2008.9,"v":0.9},{"t":2009.05,"v":0.65},{"t":2009.2,"v":0.7},{"t":2009.35,"v":0.6},{"t":2009.5,"v":0.7},{"t":2009.65,"v":0.6},{"t":2009.8,"v":0.75},{"t":2009.95,"v":0.65},{"t":2010.1,"v":0.7},{"t":2010.25,"v":0.65},{"t":2010.4,"v":0.75},{"t":2010.5,"v":1.05},{"t":2010.6,"v":0.7},{"t":2010.75,"v":0.65},{"t":2010.9,"v":0.75},{"t":2011.05,"v":0.7},{"t":2011.2,"v":1.1},{"t":2011.3,"v":0.8},{"t":2011.45,"v":0.6},{"t":2011.6,"v":0.7},{"t":2011.75,"v":0.6},{"t":2011.9,"v":0.85},{"t":2012.05,"v":0.7},{"t":2012.2,"v":1.0},{"t":2012.3,"v":0.8},{"t":2012.45,"v":0.7},{"t":2012.6,"v":0.65},{"t":2012.75,"v":0.9},{"t":2012.9,"v":0.7},{"t":2013.05,"v":0.85},{"t":2013.15,"v":1.25},{"t":2013.3,"v":0.9},{"t":2013.45,"v":0.8},{"t":2013.55,"v":1.0},{"t":2013.67,"v":1.9},{"t":2013.8,"v":1.1},{"t":2013.95,"v":0.9},{"t":2014.1,"v":1.2},{"t":2014.2,"v":2.05},{"t":2014.3,"v":1.3},{"t":2014.45,"v":1.1},{"t":2014.55,"v":1.4},{"t":2014.65,"v":1.8},{"t":2014.75,"v":1.7},{"t":2014.85,"v":1.3},{"t":2014.95,"v":1.2},{"t":2015.05,"v":1.8},{"t":2015.15,"v":1.3},{"t":2015.3,"v":1.35},{"t":2015.45,"v":1.0},{"t":2015.6,"v":1.1},{"t":2015.75,"v":0.9},{"t":2015.88,"v":2.5},{"t":2015.96,"v":1.6},{"t":2016.1,"v":1.1},{"t":2016.25,"v":0.9},{"t":2016.4,"v":1.3},{"t":2016.5,"v":1.65},{"t":2016.6,"v":1.0},{"t":2016.75,"v":0.9},{"t":2016.9,"v":1.1},{"t":2017.05,"v":1.4},{"t":2017.15,"v":1.3},{"t":2017.29,"v":2.3},{"t":2017.38,"v":1.6},{"t":2017.5,"v":1.4},{"t":2017.58,"v":1.4}
],
"ft": [
{"t":1996.5,"v":0.2},{"t":1996.7,"v":0.3},{"t":1996.9,"v":0.2},{"t":1997.1,"v":0.25},{"t":1997.3,"v":0.15},{"t":1997.5,"v":0.1},{"t":1997.7,"v":0.2},{"t":1997.85,"v":0.15},{"t":1998.0,"v":0.3},{"t":1998.12,"v":0.45},{"t":1998.25,"v":0.2},{"t":1998.4,"v":0.3},{"t":1998.55,"v":0.1},{"t":1998.7,"v":0.35},{"t":1998.85,"v":0.45},{"t":1998.95,"v":0.72},{"t":1999.05,"v":0.5},{"t":1999.15,"v":0.4},{"t":1999.25,"v":0.65},{"t":1999.35,"v":0.5},{"t":1999.5,"v":0.3},{"t":1999.65,"v":0.35},{"t":1999.8,"v":0.2},{"t":1999.95,"v":0.3},{"t":2000.1,"v":0.25},{"t":2000.25,"v":0.35},{"t":2000.4,"v":0.3},{"t":2000.55,"v":0.2},{"t":2000.7,"v":0.25},{"t":2000.85,"v":0.2},{"t":2001.0,"v":0.3},{"t":2001.1,"v":0.55},{"t":2001.2,"v":0.3},{"t":2001.3,"v":0.5},{"t":2001.4,"v":0.35},{"t":2001.5,"v":0.55},{"t":2001.62,"v":0.3},{"t":2001.71,"v":2.65},{"t":2001.79,"v":2.2},{"t":2001.88,"v":1.0},{"t":2001.96,"v":0.9},{"t":2002.05,"v":0.8},{"t":2002.2,"v":1.25},{"t":2002.3,"v":0.9},{"t":2002.45,"v":1.0},{"t":2002.6,"v":1.1},{"t":2002.7,"v":3.15},{"t":2002.78,"v":2.0},{"t":2002.87,"v":1.4},{"t":2002.96,"v":1.8},{"t":2003.04,"v":1.5},{"t":2003.13,"v":2.0},{"t":2003.21,"v":5.4},{"t":2003.29,"v":3.2},{"t":2003.37,"v":1.4},{"t":2003.45,"v":0.9},{"t":2003.55,"v":0.7},{"t":2003.65,"v":0.9},{"t":2003.75,"v":0.6},{"t":2003.85,"v":0.8},{"t":2003.95,"v":0.65},{"t":2004.05,"v":0.7},{"t":2004.15,"v":0.6},{"t":2004.25,"v":1.55},{"t":2004.35,"v":0.9},{"t":2004.45,"v":0.8},{"t":2004.55,"v":0.9},{"t":2004.65,"v":0.7},{"t":2004.75,"v":0.9},{"t":2004.9,"v":0.55},{"t":2005.0,"v":0.5},{"t":2005.1,"v":0.35},{"t":2005.2,"v":0.25},{"t":2005.35,"v":0.3},{"t":2005.45,"v":0.4},{"t":2005.54,"v":0.6},{"t":2005.62,"v":1.37},{"t":2005.7,"v":0.6},{"t":2005.8,"v":0.4},{"t":2005.95,"v":0.45},{"t":2006.1,"v":0.4},{"t":2006.25,"v":0.5},{"t":2006.4,"v":0.45},{"t":2006.54,"v":1.92},{"t":2006.62,"v":0.9},{"t":2006.75,"v":0.6},{"t":2006.9,"v":0.75},{"t":2007.05,"v":0.6},{"t":2007.2,"v":0.8},{"t":2007.35,"v":0.5},{"t":2007.5,"v":0.7},{"t":2007.65,"v":0.55},{"t":2007.8,"v":0.85},{"t":2007.95,"v":0.5},{"t":2008.1,"v":0.55},{"t":2008.25,"v":0.3},{"t":2008.4,"v":0.6},{"t":2008.55,"v":0.5},{"t":2008.65,"v":1.1},{"t":2008.8,"v":0.5},{"t":2008.95,"v":0.6},{"t":2009.1,"v":0.4},{"t":2009.25,"v":0.5},{"t":2009.4,"v":0.35},{"t":2009.55,"v":0.4},{"t":2009.7,"v":0.3},{"t":2009.8,"v":0.15},{"t":2009.95,"v":0.35},{"t":2010.1,"v":0.5},{"t":2010.25,"v":0.4},{"t":2010.4,"v":0.5},{"t":2010.55,"v":0.35},{"t":2010.7,"v":0.55},{"t":2010.85,"v":0.8},{"t":2011.0,"v":0.5},{"t":2011.12,"v":0.6},{"t":2011.22,"v":1.47},{"t":2011.32,"v":0.8},{"t":2011.45,"v":0.5},{"t":2011.6,"v":0.4},{"t":2011.75,"v":0.3},{"t":2011.9,"v":0.4},{"t":2012.05,"v":0.3},{"t":2012.2,"v":0.4},{"t":2012.35,"v":0.5},{"t":2012.5,"v":0.6},{"t":2012.65,"v":0.4},{"t":2012.8,"v":0.5},{"t":2012.95,"v":0.45},{"t":2013.1,"v":0.6},{"t":2013.2,"v":0.95},{"t":2013.35,"v":0.6},{"t":2013.5,"v":0.55},{"t":2013.65,"v":0.8},{"t":2013.8,"v":1.2},{"t":2013.95,"v":0.6},{"t":2014.1,"v":0.8},{"t":2014.25,"v":1.85},{"t":2014.35,"v":1.0},{"t":2014.5,"v":1.1},{"t":2014.6,"v":1.3},{"t":2014.71,"v":3.45},{"t":2014.8,"v":2.2},{"t":2014.9,"v":1.7},{"t":2015.0,"v":1.3},{"t":2015.15,"v":1.0},{"t":2015.3,"v":1.0},{"t":2015.45,"v":0.85},{"t":2015.6,"v":0.9},{"t":2015.75,"v":0.8},{"t":2015.88,"v":1.85},{"t":2015.96,"v":1.2},{"t":2016.1,"v":0.8},{"t":2016.25,"v":0.9},{"t":2016.4,"v":1.3},{"t":2016.5,"v":1.0},{"t":2016.65,"v":0.85},{"t":2016.8,"v":0.9},{"t":2016.95,"v":1.0},{"t":2017.05,"v":1.5},{"t":2017.15,"v":1.3},{"t":2017.29,"v":2.2},{"t":2017.38,"v":1.5},{"t":2017.5,"v":1.15},{"t":2017.58,"v":1.2}
],
"bg": [
{"t":1985.0,"v":0.35},{"t":1985.15,"v":0.5},{"t":1985.3,"v":0.35},{"t":1985.45,"v":0.55},{"t":1985.6,"v":0.3},{"t":1985.75,"v":0.6},{"t":1985.9,"v":0.35},{"t":1986.05,"v":0.65},{"t":1986.2,"v":0.45},{"t":1986.29,"v":1.05},{"t":1986.38,"v":0.35},{"t":1986.5,"v":0.15},{"t":1986.65,"v":0.35},{"t":1986.8,"v":0.3},{"t":1987.0,"v":0.35},{"t":1987.2,"v":0.25},{"t":1987.4,"v":0.35},{"t":1987.6,"v":0.3},{"t":1987.8,"v":0.4},{"t":1988.0,"v":0.35},{"t":1988.2,"v":0.3},{"t":1988.4,"v":0.25},{"t":1988.6,"v":0.3},{"t":1988.8,"v":0.2},{"t":1988.95,"v":0.4},{"t":1989.1,"v":0.3},{"t":1989.3,"v":0.4},{"t":1989.5,"v":0.15},{"t":1989.7,"v":0.3},{"t":1989.85,"v":0.4},{"t":1990.0,"v":0.65},{"t":1990.1,"v":0.5},{"t":1990.25,"v":0.3},{"t":1990.4,"v":0.35},{"t":1990.55,"v":0.3},{"t":1990.67,"v":1.3},{"t":1990.75,"v":0.8},{"t":1990.85,"v":0.5},{"t":1990.96,"v":0.9},{"t":1991.04,"v":1.7},{"t":1991.12,"v":0.8},{"t":1991.2,"v":0.3},{"t":1991.35,"v":0.2},{"t":1991.5,"v":0.3},{"t":1991.65,"v":0.5},{"t":1991.8,"v":0.2},{"t":1992.0,"v":0.3},{"t":1992.15,"v":0.5},{"t":1992.3,"v":0.2},{"t":1992.45,"v":0.05},{"t":1992.6,"v":0.3},{"t":1992.75,"v":0.55},{"t":1992.9,"v":0.25},{"t":1993.05,"v":0.3},{"t":1993.2,"v":0.5},{"t":1993.35,"v":0.2},{"t":1993.5,"v":0.3},{"t":1993.6,"v":0.1},{"t":1993.75,"v":0.3},{"t":1993.9,"v":0.25},{"t":1994.05,"v":0.45},{"t":1994.2,"v":0.2},{"t":1994.35,"v":0.3},{"t":1994.5,"v":0.15},{"t":1994.65,"v":0.3},{"t":1994.8,"v":0.45},{"t":1994.95,"v":0.3},{"t":1995.1,"v":0.4},{"t":1995.3,"v":0.35},{"t":1995.45,"v":0.2},{"t":1995.6,"v":0.3},{"t":1995.8,"v":0.25},{"t":1996.0,"v":0.2},{"t":1996.2,"v":0.3},{"t":1996.4,"v":0.15},{"t":1996.6,"v":0.25},{"t":1996.8,"v":0.2},{"t":1997.0,"v":0.15},{"t":1997.2,"v":0.2},{"t":1997.4,"v":0.15},{"t":1997.6,"v":0.12},{"t":1997.8,"v":0.2},{"t":1998.0,"v":0.3},{"t":1998.12,"v":0.85},{"t":1998.2,"v":0.2},{"t":1998.3,"v":0.1},{"t":1998.45,"v":0.3},{"t":1998.6,"v":0.35},{"t":1998.8,"v":0.5},{"t":1998.95,"v":0.35},{"t":1999.1,"v":0.25},{"t":1999.25,"v":0.35},{"t":1999.4,"v":0.2},{"t":1999.6,"v":0.25},{"t":1999.75,"v":0.15},{"t":1999.9,"v":0.55},{"t":2000.05,"v":0.25},{"t":2000.2,"v":0.3},{"t":2000.35,"v":0.15},{"t":2000.5,"v":0.25},{"t":2000.65,"v":0.2},{"t":2000.8,"v":0.5},{"t":2000.95,"v":0.15},{"t":2001.05,"v":0.1},{"t":2001.2,"v":0.25},{"t":2001.35,"v":0.3},{"t":2001.5,"v":0.2},{"t":2001.62,"v":0.05},{"t":2001.71,"v":1.7},{"t":2001.79,"v":1.55},{"t":2001.88,"v":0.8},{"t":2001.96,"v":0.5},{"t":2002.1,"v":0.55},{"t":2002.25,"v":0.45},{"t":2002.4,"v":0.5},{"t":2002.5,"v":0.35},{"t":2002.6,"v":0.55},{"t":2002.7,"v":1.3},{"t":2002.78,"v":1.0},{"t":2002.87,"v":0.6},{"t":2002.96,"v":0.7},{"t":2003.04,"v":0.5},{"t":2003.13,"v":0.8},{"t":2003.21,"v":2.3},{"t":2003.29,"v":1.5},{"t":2003.37,"v":0.6},{"t":2003.45,"v":0.4},{"t":2003.6,"v":0.3},{"t":2003.75,"v":0.35},{"t":2003.9,"v":0.3},{"t":2004.05,"v":0.4},{"t":2004.2,"v":0.45},{"t":2004.3,"v":0.6},{"t":2004.45,"v":0.4},{"t":2004.6,"v":0.45},{"t":2004.75,"v":0.35},{"t":2004.9,"v":0.3},{"t":2005.05,"v":0.2},{"t":2005.2,"v":0.25},{"t":2005.35,"v":0.15},{"t":2005.54,"v":0.5},{"t":2005.62,"v":0.25},{"t":2005.8,"v":0.2},{"t":2005.95,"v":0.3},{"t":2006.1,"v":0.2},{"t":2006.3,"v":0.3},{"t":2006.45,"v":0.25},{"t":2006.54,"v":0.7},{"t":2006.62,"v":0.4},{"t":2006.75,"v":0.2},{"t":2006.9,"v":0.15},{"t":2007.05,"v":0.3},{"t":2007.2,"v":0.15},{"t":2007.35,"v":0.35},{"t":2007.5,"v":0.2},{"t":2007.65,"v":0.3},{"t":2007.8,"v":0.1},{"t":2007.95,"v":0.25},{"t":2008.1,"v":0.15},{"t":2008.25,"v":0.3},{"t":2008.4,"v":0.1},{"t":2008.55,"v":0.25},{"t":2008.7,"v":0.15},{"t":2008.9,"v":0.3},{"t":2009.05,"v":0.15},{"t":2009.2,"v":0.2},{"t":2009.35,"v":0.1},{"t":2009.5,"v":0.05},{"t":2009.65,"v":0.2},{"t":2009.8,"v":0.15},{"t":2009.95,"v":0.2},{"t":2010.0,"v":0.02},{"t":2010.3,"v":0.01},{"t":2010.6,"v":0.02},{"t":2010.9,"v":0.0},{"t":2011.2,"v":0.02},{"t":2011.5,"v":0.01},{"t":2011.8,"v":0.0},{"t":2012.1,"v":0.03},{"t":2012.3,"v":0.1},{"t":2012.45,"v":0.05},{"t":2012.6,"v":0.2},{"t":2012.75,"v":0.1},{"t":2012.9,"v":0.15},{"t":2013.05,"v":0.1},{"t":2013.2,"v":0.2},{"t":2013.35,"v":0.1},{"t":2013.5,"v":0.2},{"t":2013.65,"v":0.1},{"t":2013.8,"v":0.15},{"t":2013.95,"v":0.1},{"t":2014.1,"v":0.2},{"t":2014.25,"v":0.1},{"t":2014.4,"v":0.2},{"t":2014.55,"v":0.25},{"t":2014.71,"v":0.35},{"t":2014.85,"v":0.2},{"t":2015.0,"v":0.15},{"t":2015.15,"v":0.2},{"t":2015.3,"v":0.3},{"t":2015.45,"v":0.15},{"t":2015.6,"v":0.2},{"t":2015.75,"v":0.1},{"t":2015.88,"v":0.25},{"t":2016.0,"v":0.15},{"t":2016.15,"v":0.1},{"t":2016.3,"v":0.2},{"t":2016.45,"v":0.3},{"t":2016.6,"v":0.15},{"t":2016.75,"v":0.05},{"t":2016.9,"v":0.2},{"t":2017.05,"v":0.35},{"t":2017.2,"v":0.15},{"t":2017.3,"v":0.1},{"t":2017.45,"v":0.2},{"t":2017.58,"v":0.15}
],
"lat": [
{"t":1985.0,"v":0.4},{"t":1985.15,"v":0.3},{"t":1985.3,"v":0.4},{"t":1985.45,"v":0.3},{"t":1985.6,"v":0.35},{"t":1985.75,"v":0.45},{"t":1985.9,"v":0.35},{"t":1986.05,"v":0.55},{"t":1986.2,"v":0.7},{"t":1986.29,"v":1.1},{"t":1986.38,"v":0.4},{"t":1986.5,"v":0.3},{"t":1986.65,"v":0.25},{"t":1986.8,"v":0.3},{"t":1987.0,"v":0.25},{"t":1987.2,"v":0.35},{"t":1987.4,"v":0.3},{"t":1987.6,"v":0.35},{"t":1987.8,"v":0.3},{"t":1988.0,"v":0.4},{"t":1988.2,"v":0.3},{"t":1988.4,"v":0.25},{"t":1988.6,"v":0.2},{"t":1988.8,"v":0.25},{"t":1989.0,"v":0.3},{"t":1989.2,"v":0.25},{"t":1989.4,"v":0.3},{"t":1989.6,"v":0.2},{"t":1989.8,"v":0.25},{"t":1990.0,"v":0.3},{"t":1990.2,"v":0.25},{"t":1990.4,"v":0.3},{"t":1990.55,"v":0.35},{"t":1990.67,"v":0.9},{"t":1990.75,"v":0.7},{"t":1990.85,"v":0.5},{"t":1990.96,"v":0.8},{"t":1991.04,"v":1.8},{"t":1991.12,"v":0.9},{"t":1991.2,"v":0.35},{"t":1991.35,"v":0.25},{"t":1991.5,"v":0.3},{"t":1991.7,"v":0.2},{"t":1991.9,"v":0.25},{"t":1992.1,"v":0.2},{"t":1992.3,"v":0.25},{"t":1992.5,"v":0.2},{"t":1992.7,"v":0.15},{"t":1992.9,"v":0.25},{"t":1993.1,"v":0.2},{"t":1993.3,"v":0.3},{"t":1993.5,"v":0.15},{"t":1993.7,"v":0.2},{"t":1993.9,"v":0.1},{"t":1994.1,"v":0.15},{"t":1994.3,"v":0.2},{"t":1994.5,"v":0.25},{"t":1994.7,"v":0.15},{"t":1994.9,"v":0.2},{"t":1995.1,"v":0.3},{"t":1995.3,"v":0.25},{"t":1995.5,"v":0.2},{"t":1995.7,"v":0.3},{"t":1995.85,"v":0.35},{"t":1996.0,"v":0.25},{"t":1996.2,"v":0.3},{"t":1996.4,"v":0.2},{"t":1996.6,"v":0.25},{"t":1996.8,"v":0.2},{"t":1997.0,"v":0.25},{"t":1997.2,"v":0.2},{"t":1997.4,"v":0.15},{"t":1997.6,"v":0.2},{"t":1997.8,"v":0.15},{"t":1998.0,"v":0.25},{"t":1998.12,"v":0.75},{"t":1998.2,"v":0.3},{"t":1998.4,"v":0.25},{"t":1998.6,"v":0.3},{"t":1998.8,"v":0.35},{"t":1998.95,"v":0.4},{"t":1999.1,"v":0.3},{"t":1999.3,"v":0.35},{"t":1999.5,"v":0.25},{"t":1999.7,"v":0.3},{"t":1999.9,"v":0.25},{"t":2000.1,"v":0.3},{"t":2000.3,"v":0.25},{"t":2000.5,"v":0.3},{"t":2000.7,"v":0.25},{"t":2000.9,"v":0.35},{"t":2001.1,"v":0.3},{"t":2001.3,"v":0.35},{"t":2001.45,"v":0.25},{"t":2001.62,"v":0.3},{"t":2001.71,"v":1.7},{"t":2001.79,"v":1.6},{"t":2001.88,"v":0.9},{"t":2001.96,"v":0.7},{"t":2002.1,"v":0.8},{"t":2002.25,"v":0.7},{"t":2002.4,"v":1.15},{"t":2002.5,"v":0.8},{"t":2002.6,"v":0.9},{"t":2002.7,"v":1.65},{"t":2002.78,"v":1.2},{"t":2002.87,"v":0.9},{"t":2002.96,"v":1.0},{"t":2003.04,"v":0.8},{"t":2003.13,"v":1.1},{"t":2003.21,"v":2.75},{"t":2003.29,"v":1.9},{"t":2003.37,"v":0.8},{"t":2003.45,"v":0.6},{"t":2003.6,"v":0.5},{"t":2003.75,"v":0.55},{"t":2003.9,"v":0.5},{"t":2004.05,"v":0.6},{"t":2004.2,"v":1.0},{"t":2004.3,"v":0.7},{"t":2004.45,"v":0.6},{"t":2004.6,"v":0.95},{"t":2004.7,"v":0.6},{"t":2004.85,"v":0.55},{"t":2005.0,"v":0.5},{"t":2005.15,"v":0.45},{"t":2005.3,"v":0.4},{"t":2005.45,"v":0.5},{"t":2005.54,"v":0.6},{"t":2005.62,"v":0.45},{"t":2005.8,"v":0.5},{"t":2005.95,"v":0.55},{"t":2006.1,"v":0.5},{"t":2006.25,"v":0.6},{"t":2006.4,"v":0.45},{"t":2006.54,"v":0.85},{"t":2006.62,"v":0.7},{"t":2006.75,"v":0.5},{"t":2006.9,"v":0.55},{"t":2007.05,"v":0.5},{"t":2007.2,"v":0.6},{"t":2007.35,"v":0.5},{"t":2007.5,"v":0.65},{"t":2007.65,"v":0.45},{"t":2007.8,"v":0.55},{"t":2007.95,"v":0.5},{"t":2008.1,"v":0.65},{"t":2008.25,"v":0.45},{"t":2008.4,"v":0.55},{"t":2008.55,"v":0.45},{"t":2008.7,"v":0.5},{"t":2008.9,"v":0.6},{"t":2009.05,"v":0.45},{"t":2009.2,"v":0.5},{"t":2009.35,"v":0.4},{"t":2009.5,"v":0.45},{"t":2009.65,"v":0.4},{"t":2009.8,"v":0.5},{"t":2009.95,"v":0.55},{"t":2010.1,"v":0.4},{"t":2010.25,"v":0.5},{"t":2010.4,"v":0.35},{"t":2010.55,"v":0.55},{"t":2010.7,"v":0.7},{"t":2010.85,"v":0.45},{"t":2011.0,"v":0.4},{"t":2011.2,"v":0.65},{"t":2011.3,"v":0.45},{"t":2011.45,"v":0.35},{"t":2011.6,"v":0.4},{"t":2011.75,"v":0.3},{"t":2011.9,"v":0.2},{"t":2012.05,"v":0.35},{"t":2012.2,"v":0.45},{"t":2012.35,"v":0.55},{"t":2012.5,"v":0.4},{"t":2012.65,"v":0.45},{"t":2012.8,"v":0.35},{"t":2012.95,"v":0.4},{"t":2013.1,"v":0.5},{"t":2013.25,"v":0.4},{"t":2013.4,"v":0.5},{"t":2013.55,"v":0.6},{"t":2013.67,"v":0.65},{"t":2013.8,"v":0.4},{"t":2013.95,"v":0.35},{"t":2014.1,"v":0.5},{"t":2014.2,"v":0.7},{"t":2014.3,"v":0.45},{"t":2014.45,"v":0.5},{"t":2014.55,"v":0.6},{"t":2014.71,"v":1.18},{"t":2014.8,"v":0.8},{"t":2014.9,"v":0.55},{"t":2015.05,"v":0.5},{"t":2015.2,"v":0.45},{"t":2015.35,"v":0.4},{"t":2015.5,"v":0.45},{"t":2015.65,"v":0.35},{"t":2015.8,"v":0.5},{"t":2015.88,"v":1.2},{"t":2015.96,"v":0.8},{"t":2016.1,"v":0.5},{"t":2016.25,"v":0.45},{"t":2016.4,"v":0.8},{"t":2016.5,"v":0.55},{"t":2016.6,"v":0.4},{"t":2016.75,"v":0.5},{"t":2016.9,"v":0.6},{"t":2017.05,"v":0.9},{"t":2017.15,"v":0.8},{"t":2017.25,"v":1.15},{"t":2017.35,"v":0.9},{"t":2017.5,"v":0.6},{"t":2017.58,"v":0.6}
],
"gam": [
{"t":1985.0,"v":0.4},{"t":1985.15,"v":0.3},{"t":1985.3,"v":0.45},{"t":1985.45,"v":0.25},{"t":1985.6,"v":0.4},{"t":1985.7,"v":0.1},{"t":1985.85,"v":0.35},{"t":1986.0,"v":0.15},{"t":1986.15,"v":0.4},{"t":1986.29,"v":1.05},{"t":1986.38,"v":0.4},{"t":1986.5,"v":0.25},{"t":1986.65,"v":0.35},{"t":1986.8,"v":0.25},{"t":1987.0,"v":0.35},{"t":1987.15,"v":0.2},{"t":1987.3,"v":0.3},{"t":1987.45,"v":0.15},{"t":1987.6,"v":0.35},{"t":1987.75,"v":0.2},{"t":1987.9,"v":0.35},{"t":1988.05,"v":0.3},{"t":1988.2,"v":0.2},{"t":1988.35,"v":0.3},{"t":1988.5,"v":0.2},{"t":1988.65,"v":0.25},{"t":1988.8,"v":0.15},{"t":1988.95,"v":0.05},{"t":1989.1,"v":0.25},{"t":1989.3,"v":0.35},{"t":1989.5,"v":0.3},{"t":1989.7,"v":0.35},{"t":1989.9,"v":0.3},{"t":1990.1,"v":0.4},{"t":1990.3,"v":0.35},{"t":1990.5,"v":0.45},{"t":1990.67,"v":1.2},{"t":1990.75,"v":0.8},{"t":1990.85,"v":0.6},{"t":1990.96,"v":0.9},{"t":1991.04,"v":1.7},{"t":1991.12,"v":0.8},{"t":1991.2,"v":0.45},{"t":1991.35,"v":0.3},{"t":1991.5,"v":0.4},{"t":1991.7,"v":0.25},{"t":1991.9,"v":0.3},{"t":1992.1,"v":0.25},{"t":1992.4,"v":0.3},{"t":1992.7,"v":0.2},{"t":1993.0,"v":0.3},{"t":1993.3,"v":0.2},{"t":1993.6,"v":0.25},{"t":1993.9,"v":0.2},{"t":1994.2,"v":0.25},{"t":1994.5,"v":0.2},{"t":1994.8,"v":0.3},{"t":1995.1,"v":0.2},{"t":1995.4,"v":0.25},{"t":1995.7,"v":0.3},{"t":1996.0,"v":0.2},{"t":1996.3,"v":0.25},{"t":1996.6,"v":0.3},{"t":1996.9,"v":0.2},{"t":1997.2,"v":0.25},{"t":1997.5,"v":0.15},{"t":1997.8,"v":0.2},{"t":1998.12,"v":0.75},{"t":1998.25,"v":0.3},{"t":1998.5,"v":0.25},{"t":1998.8,"v":0.35},{"t":1999.1,"v":0.3},{"t":1999.3,"v":0.4},{"t":1999.6,"v":0.25},{"t":1999.9,"v":0.35},{"t":2000.2,"v":0.25},{"t":2000.5,"v":0.3},{"t":2000.8,"v":0.2},{"t":2001.1,"v":0.25},{"t":2001.4,"v":0.2},{"t":2001.62,"v":0.2},{"t":2001.71,"v":1.7},{"t":2001.79,"v":1.6},{"t":2001.88,"v":0.8},{"t":2001.96,"v":0.6},{"t":2002.1,"v":0.5},{"t":2002.3,"v":0.7},{"t":2002.5,"v":0.6},{"t":2002.6,"v":0.75},{"t":2002.7,"v":1.4},{"t":2002.78,"v":1.0},{"t":2002.9,"v":0.8},{"t":2003.05,"v":0.9},{"t":2003.13,"v":1.1},{"t":2003.21,"v":2.4},{"t":2003.29,"v":1.8},{"t":2003.37,"v":0.7},{"t":2003.5,"v":0.5},{"t":2003.7,"v":0.4},{"t":2003.9,"v":0.45},{"t":2004.1,"v":0.5},{"t":2004.3,"v":0.75},{"t":2004.45,"v":0.5},{"t":2004.6,"v":0.6},{"t":2004.8,"v":0.4},{"t":2005.0,"v":0.35},{"t":2005.2,"v":0.3},{"t":2005.4,"v":0.35},{"t":2005.54,"v":0.5},{"t":2005.7,"v":0.3},{"t":2005.9,"v":0.35},{"t":2006.1,"v":0.3},{"t":2006.3,"v":0.4},{"t":2006.54,"v":1.07},{"t":2006.62,"v":0.6},{"t":2006.8,"v":0.4},{"t":2007.0,"v":0.45},{"t":2007.2,"v":0.35},{"t":2007.4,"v":0.45},{"t":2007.6,"v":0.4},{"t":2007.8,"v":0.45},{"t":2008.0,"v":0.35},{"t":2008.2,"v":0.4},{"t":2008.4,"v":0.3},{"t":2008.6,"v":0.35},{"t":2008.75,"v":0.1},{"t":2008.9,"v":0.4},{"t":2009.1,"v":0.3},{"t":2009.3,"v":0.35},{"t":2009.5,"v":0.25},{"t":2009.7,"v":0.3},{"t":2009.9,"v":0.35},{"t":2010.1,"v":0.3},{"t":2010.3,"v":0.4},{"t":2010.5,"v":0.3},{"t":2010.7,"v":0.35},{"t":2010.9,"v":0.3},{"t":2011.05,"v":0.4},{"t":2011.2,"v":0.75},{"t":2011.35,"v":0.45},{"t":2011.5,"v":0.3},{"t":2011.7,"v":0.35},{"t":2011.9,"v":0.3},{"t":2012.1,"v":0.35},{"t":2012.3,"v":0.3},{"t":2012.5,"v":0.35},{"t":2012.7,"v":0.3},{"t":2012.9,"v":0.35},{"t":2013.1,"v":0.4},{"t":2013.3,"v":0.35},{"t":2013.5,"v":0.65},{"t":2013.6,"v":0.3},{"t":2013.75,"v":0.0},{"t":2013.85,"v":0.3},{"t":2014.0,"v":0.5},{"t":2014.1,"v":0.7},{"t":2014.2,"v":1.37},{"t":2014.3,"v":0.8},{"t":2014.45,"v":0.6},{"t":2014.55,"v":0.8},{"t":2014.71,"v":1.2},{"t":2014.8,"v":0.9},{"t":2014.9,"v":0.7},{"t":2015.0,"v":1.2},{"t":2015.1,"v":0.9},{"t":2015.2,"v":1.15},{"t":2015.3,"v":0.7},{"t":2015.45,"v":0.55},{"t":2015.6,"v":0.5},{"t":2015.75,"v":0.6},{"t":2015.88,"v":1.2},{"t":2015.96,"v":0.7},{"t":2016.1,"v":0.5},{"t":2016.25,"v":0.55},{"t":2016.4,"v":0.6},{"t":2016.5,"v":0.8},{"t":2016.6,"v":0.5},{"t":2016.75,"v":0.55},{"t":2016.9,"v":0.6},{"t":2017.05,"v":0.7},{"t":2017.15,"v":0.9},{"t":2017.25,"v":1.27},{"t":2017.35,"v":0.9},{"t":2017.5,"v":0.7},{"t":2017.58,"v":0.65}
],
"dt": [
{"t":1990.0,"v":0.25},{"t":1990.3,"v":0.3},{"t":1990.55,"v":0.25},{"t":1990.67,"v":0.7},{"t":1990.8,"v":0.5},{"t":1991.04,"v":1.3},{"t":1991.15,"v":0.6},{"t":1991.3,"v":0.45},{"t":1991.5,"v":0.3},{"t":1991.7,"v":0.25},{"t":1991.9,"v":0.3},{"t":1992.1,"v":0.2},{"t":1992.4,"v":0.3},{"t":1992.7,"v":0.25},{"t":1993.0,"v":0.35},{"t":1993.3,"v":0.25},{"t":1993.6,"v":0.3},{"t":1993.9,"v":0.35},{"t":1994.2,"v":0.25},{"t":1994.5,"v":0.3},{"t":1994.8,"v":0.25},{"t":1995.1,"v":0.3},{"t":1995.4,"v":0.2},{"t":1995.7,"v":0.3},{"t":1996.0,"v":0.25},{"t":1996.3,"v":0.2},{"t":1996.55,"v":0.3},{"t":1996.7,"v":0.62},{"t":1996.8,"v":0.3},{"t":1997.0,"v":0.2},{"t":1997.3,"v":0.15},{"t":1997.6,"v":0.1},{"t":1997.9,"v":0.15},{"t":1998.12,"v":0.6},{"t":1998.3,"v":0.2},{"t":1998.6,"v":0.25},{"t":1998.9,"v":0.35},{"t":1999.2,"v":0.3},{"t":1999.5,"v":0.2},{"t":1999.8,"v":0.25},{"t":2000.1,"v":0.2},{"t":2000.4,"v":0.25},{"t":2000.7,"v":0.15},{"t":2001.0,"v":0.2},{"t":2001.3,"v":0.15},{"t":2001.62,"v":0.1},{"t":2001.71,"v":1.5},{"t":2001.79,"v":1.2},{"t":2001.9,"v":0.4},{"t":2002.0,"v":0.3},{"t":2002.2,"v":0.25},{"t":2002.4,"v":0.35},{"t":2002.6,"v":0.3},{"t":2002.7,"v":1.1},{"t":2002.8,"v":0.6},{"t":2003.0,"v":0.5},{"t":2003.13,"v":0.8},{"t":2003.21,"v":2.1},{"t":2003.29,"v":1.4},{"t":2003.4,"v":0.5},{"t":2003.55,"v":0.35},{"t":2003.75,"v":0.3},{"t":2003.95,"v":0.35},{"t":2004.15,"v":0.3},{"t":2004.3,"v":0.5},{"t":2004.5,"v":0.3},{"t":2004.7,"v":0.35},{"t":2004.9,"v":0.25},{"t":2005.1,"v":0.2},{"t":2005.3,"v":0.25},{"t":2005.54,"v":0.4},{"t":2005.7,"v":0.3},{"t":2005.85,"v":0.78},{"t":2005.95,"v":0.3},{"t":2006.15,"v":0.25},{"t":2006.35,"v":0.3},{"t":2006.54,"v":0.9},{"t":2006.62,"v":0.5},{"t":2006.8,"v":0.3},{"t":2007.0,"v":0.35},{"t":2007.3,"v":0.3},{"t":2007.6,"v":0.35},{"t":2007.9,"v":0.25},{"t":2008.2,"v":0.3},{"t":2008.5,"v":0.25},{"t":2008.8,"v":0.3},{"t":2009.1,"v":0.25},{"t":2009.4,"v":0.2},{"t":2009.7,"v":0.25},{"t":2010.0,"v":0.3},{"t":2010.3,"v":0.2},{"t":2010.6,"v":0.25},{"t":2010.9,"v":0.2},{"t":2011.2,"v":0.4},{"t":2011.5,"v":0.2},{"t":2011.8,"v":0.25},{"t":2012.1,"v":0.2},{"t":2012.4,"v":0.25},{"t":2012.7,"v":0.15},{"t":2013.0,"v":0.15},{"t":2013.3,"v":0.2},{"t":2013.6,"v":0.3},{"t":2013.9,"v":0.2},{"t":2014.2,"v":0.5},{"t":2014.45,"v":0.3},{"t":2014.71,"v":1.0},{"t":2014.85,"v":0.5},{"t":2015.0,"v":0.4},{"t":2015.3,"v":0.3},{"t":2015.6,"v":0.35},{"t":2015.88,"v":1.1},{"t":2016.0,"v":0.5},{"t":2016.3,"v":0.35},{"t":2016.5,"v":0.5},{"t":2016.7,"v":0.3},{"t":2016.9,"v":0.4},{"t":2017.1,"v":0.5},{"t":2017.3,"v":0.65},{"t":2017.58,"v":0.45}
],
"gua": [
{"t":1988.9,"v":0.05},{"t":1989.1,"v":0.02},{"t":1989.3,"v":0.1},{"t":1989.5,"v":0.03},{"t":1989.7,"v":0.12},{"t":1989.9,"v":0.02},{"t":1990.1,"v":0.08},{"t":1990.3,"v":0.0},{"t":1990.5,"v":0.1},{"t":1990.67,"v":0.3},{"t":1990.8,"v":0.1},{"t":1990.96,"v":0.2},{"t":1991.04,"v":0.6},{"t":1991.12,"v":0.2},{"t":1991.3,"v":0.05},{"t":1991.5,"v":0.1},{"t":1991.7,"v":0.03},{"t":1991.9,"v":0.08},{"t":1992.1,"v":0.02},{"t":1992.3,"v":0.1},{"t":1992.5,"v":0.0},{"t":1992.7,"v":0.08},{"t":1992.9,"v":0.05},{"t":1993.1,"v":0.1},{"t":1993.3,"v":0.02},{"t":1993.5,"v":0.08},{"t":1993.7,"v":0.0},{"t":1993.9,"v":0.1},{"t":1994.1,"v":0.03},{"t":1994.3,"v":0.08},{"t":1994.5,"v":0.0},{"t":1994.7,"v":0.1},{"t":1994.9,"v":0.05},{"t":1995.1,"v":0.08},{"t":1995.3,"v":0.0},{"t":1995.5,"v":0.1},{"t":1995.7,"v":0.02},{"t":1995.9,"v":0.08},{"t":1996.1,"v":0.0},{"t":1996.3,"v":0.05},{"t":1996.5,"v":0.1},{"t":1996.7,"v":0.02},{"t":1996.9,"v":0.05},{"t":1997.05,"v":0.2},{"t":1997.2,"v":0.15},{"t":1997.4,"v":0.2},{"t":1997.6,"v":0.15},{"t":1997.8,"v":0.2},{"t":1997.95,"v":0.6},{"t":1998.12,"v":1.12},{"t":1998.2,"v":0.4},{"t":1998.35,"v":0.3},{"t":1998.5,"v":0.35},{"t":1998.65,"v":0.4},{"t":1998.8,"v":0.6},{"t":1998.95,"v":0.45},{"t":1999.1,"v":0.5},{"t":1999.25,"v":0.78},{"t":1999.35,"v":0.45},{"t":1999.5,"v":0.3},{"t":1999.7,"v":0.35},{"t":1999.9,"v":0.25},{"t":2000.1,"v":0.3},{"t":2000.3,"v":0.25},{"t":2000.5,"v":0.3},{"t":2000.7,"v":0.2},{"t":2000.9,"v":0.25},{"t":2001.1,"v":0.2},{"t":2001.3,"v":0.25},{"t":2001.5,"v":0.2},{"t":2001.62,"v":0.15},{"t":2001.71,"v":1.95},{"t":2001.79,"v":1.6},{"t":2001.88,"v":0.8},{"t":2001.96,"v":0.6},{"t":2002.1,"v":0.7},{"t":2002.25,"v":0.6},{"t":2002.4,"v":0.7},{"t":2002.55,"v":0.8},{"t":2002.65,"v":2.6},{"t":2002.75,"v":1.5},{"t":2002.87,"v":1.0},{"t":2002.96,"v":1.5},{"t":2003.04,"v":1.3},{"t":2003.13,"v":2.5},{"t":2003.21,"v":5.1},{"t":2003.29,"v":3.0},{"t":2003.37,"v":1.0},{"t":2003.45,"v":0.6},{"t":2003.6,"v":0.5},{"t":2003.75,"v":0.55},{"t":2003.9,"v":0.5},{"t":2004.05,"v":0.55},{"t":2004.2,"v":0.6},{"t":2004.3,"v":0.7},{"t":2004.45,"v":0.5},{"t":2004.6,"v":0.6},{"t":2004.75,"v":0.45},{"t":2004.9,"v":0.4},{"t":2005.05,"v":0.35},{"t":2005.2,"v":0.4},{"t":2005.35,"v":0.35},{"t":2005.47,"v":0.9},{"t":2005.55,"v":0.6},{"t":2005.7,"v":0.4},{"t":2005.85,"v":0.45},{"t":2006.0,"v":0.4},{"t":2006.2,"v":0.45},{"t":2006.4,"v":0.4},{"t":2006.54,"v":1.0},{"t":2006.62,"v":0.6},{"t":2006.8,"v":0.45},{"t":2007.0,"v":0.4},{"t":2007.2,"v":0.45},{"t":2007.4,"v":0.4},{"t":2007.6,"v":0.62},{"t":2007.75,"v":0.45},{"t":2007.9,"v":0.4},{"t":2008.1,"v":0.45},{"t":2008.3,"v":0.35},{"t":2008.5,"v":0.4},{"t":2008.7,"v":0.35},{"t":2008.9,"v":0.45},{"t":2009.1,"v":0.35},{"t":2009.3,"v":0.4},{"t":2009.5,"v":0.35},{"t":2009.7,"v":0.4},{"t":2009.85,"v":0.45},{"t":2010.0,"v":0.65},{"t":2010.1,"v":0.4},{"t":2010.3,"v":0.35},{"t":2010.5,"v":0.4},{"t":2010.7,"v":0.45},{"t":2010.9,"v":0.4},{"t":2011.05,"v":0.5},{"t":2011.2,"v":0.65},{"t":2011.35,"v":0.45},{"t":2011.5,"v":0.4},{"t":2011.7,"v":0.45},{"t":2011.9,"v":0.35},{"t":2012.1,"v":0.4},{"t":2012.3,"v":0.45},{"t":2012.5,"v":0.35},{"t":2012.7,"v":0.4},{"t":2012.9,"v":0.35},{"t":2013.1,"v":0.4},{"t":2013.3,"v":0.35},{"t":2013.5,"v":0.45},{"t":2013.67,"v":0.6},{"t":2013.8,"v":0.4},{"t":2013.95,"v":0.45},{"t":2014.1,"v":0.55},{"t":2014.2,"v":0.7},{"t":2014.35,"v":0.5},{"t":2014.5,"v":0.6},{"t":2014.6,"v":0.8},{"t":2014.71,"v":1.32},{"t":2014.8,"v":0.9},{"t":2014.9,"v":0.8},{"t":2015.05,"v":0.7},{"t":2015.2,"v":0.8},{"t":2015.35,"v":0.6},{"t":2015.5,"v":0.65},{"t":2015.65,"v":0.55},{"t":2015.8,"v":0.7},{"t":2015.88,"v":1.62},{"t":2015.96,"v":0.9},{"t":2016.1,"v":0.5},{"t":2016.25,"v":0.6},{"t":2016.4,"v":1.05},{"t":2016.5,"v":0.7},{"t":2016.62,"v":0.15},{"t":2016.75,"v":0.6},{"t":2016.9,"v":0.75},{"t":2017.05,"v":0.8},{"t":2017.2,"v":0.7},{"t":2017.3,"v":1.0},{"t":2017.45,"v":0.75},{"t":2017.58,"v":0.8}
],
"tol": [
{"t":1985.0,"v":0.35},{"t":1985.3,"v":0.3},{"t":1985.6,"v":0.35},{"t":1985.9,"v":0.25},{"t":1986.2,"v":0.3},{"t":1986.29,"v":0.8},{"t":1986.45,"v":0.3},{"t":1986.8,"v":0.25},{"t":1987.2,"v":0.3},{"t":1987.6,"v":0.25},{"t":1988.0,"v":0.3},{"t":1988.4,"v":0.2},{"t":1988.8,"v":0.2},{"t":1989.2,"v":0.25},{"t":1989.6,"v":0.2},{"t":1990.0,"v":0.25},{"t":1990.4,"v":0.2},{"t":1990.67,"v":0.7},{"t":1990.8,"v":0.4},{"t":1991.04,"v":1.3},{"t":1991.15,"v":0.5},{"t":1991.3,"v":0.25},{"t":1991.6,"v":0.2},{"t":1991.9,"v":0.25},{"t":1992.2,"v":0.2},{"t":1992.5,"v":0.3},{"t":1992.8,"v":0.4},{"t":1992.95,"v":0.78},{"t":1993.05,"v":0.5},{"t":1993.2,"v":0.35},{"t":1993.4,"v":0.3},{"t":1993.7,"v":0.2},{"t":1994.0,"v":0.25},{"t":1994.3,"v":0.2},{"t":1994.6,"v":0.25},{"t":1994.9,"v":0.15},{"t":1995.2,"v":0.2},{"t":1995.5,"v":0.15},{"t":1995.8,"v":0.2},{"t":1996.1,"v":0.15},{"t":1996.4,"v":0.2},{"t":1996.7,"v":0.15},{"t":1997.0,"v":0.2},{"t":1997.3,"v":0.1},{"t":1997.6,"v":0.15},{"t":1997.9,"v":0.1},{"t":1998.12,"v":0.5},{"t":1998.3,"v":0.15},{"t":1998.6,"v":0.2},{"t":1998.9,"v":0.05},{"t":1999.2,"v":0.3},{"t":1999.5,"v":0.15},{"t":1999.8,"v":0.2},{"t":2000.1,"v":0.1},{"t":2000.4,"v":0.15},{"t":2000.7,"v":0.1},{"t":2001.0,"v":0.15},{"t":2001.3,"v":0.1},{"t":2001.62,"v":0.1},{"t":2001.71,"v":1.3},{"t":2001.79,"v":1.0},{"t":2001.9,"v":0.4},{"t":2002.0,"v":0.3},{"t":2002.2,"v":0.35},{"t":2002.4,"v":0.45},{"t":2002.6,"v":0.4},{"t":2002.7,"v":0.8},{"t":2002.8,"v":0.55},{"t":2003.0,"v":0.5},{"t":2003.13,"v":0.7},{"t":2003.21,"v":1.05},{"t":2003.29,"v":0.9},{"t":2003.4,"v":0.4},{"t":2003.55,"v":0.3},{"t":2003.75,"v":0.25},{"t":2003.95,"v":0.3},{"t":2004.15,"v":0.25},{"t":2004.3,"v":0.4},{"t":2004.5,"v":0.25},{"t":2004.7,"v":0.3},{"t":2004.9,"v":0.2},{"t":2005.1,"v":0.2},{"t":2005.3,"v":0.15},{"t":2005.54,"v":0.35},{"t":2005.7,"v":0.2},{"t":2005.9,"v":0.15},{"t":2006.1,"v":0.2},{"t":2006.3,"v":0.15},{"t":2006.54,"v":0.6},{"t":2006.62,"v":0.35},{"t":2006.8,"v":0.2},{"t":2007.0,"v":0.25},{"t":2007.3,"v":0.2},{"t":2007.6,"v":0.3},{"t":2007.9,"v":0.2},{"t":2008.2,"v":0.25},{"t":2008.5,"v":0.15},{"t":2008.8,"v":0.25},{"t":2009.1,"v":0.2},{"t":2009.4,"v":0.15},{"t":2009.7,"v":0.2},{"t":2010.0,"v":0.2},{"t":2010.3,"v":0.15},{"t":2010.6,"v":0.2},{"t":2010.9,"v":0.15},{"t":2011.2,"v":0.35},{"t":2011.5,"v":0.15},{"t":2011.8,"v":0.2},{"t":2012.1,"v":0.15},{"t":2012.4,"v":0.2},{"t":2012.7,"v":0.1},{"t":2013.0,"v":0.15},{"t":2013.2,"v":0.05},{"t":2013.3,"v":0.0},{"t":2013.45,"v":0.15},{"t":2013.67,"v":0.3},{"t":2013.9,"v":0.2},{"t":2014.2,"v":0.4},{"t":2014.45,"v":0.25},{"t":2014.71,"v":0.8},{"t":2014.85,"v":0.4},{"t":2015.0,"v":0.35},{"t":2015.3,"v":0.3},{"t":2015.6,"v":0.35},{"t":2015.88,"v":1.25},{"t":2016.0,"v":0.5},{"t":2016.3,"v":0.35},{"t":2016.5,"v":0.45},{"t":2016.7,"v":0.3},{"t":2016.9,"v":0.4},{"t":2017.1,"v":0.45},{"t":2017.3,"v":0.5},{"t":2017.58,"v":0.5}
]
},
"columns": 2,
"spacing": {"row": 125, "column": 149},
"bounds": "flush",
"resolve": {"scale": {"color": "independent"}, "legend": {"color": "independent"}},
"concat": [
{
 "title": "Newspapers also used for Historical Index",
 "width": 469, "height": 319,
 "encoding": {
  "x": {"field": "t", "type": "quantitative", "scale": {"domain": [1985, 2017.58], "nice": false, "zero": false}, "axis": {"values": [1985,1990,1995,2000,2005,2010,2015], "format": "d", "title": null}},
  "y": {"field": "v", "type": "quantitative", "scale": {"domain": [0, 6], "nice": false}, "axis": {"values": [0,1,2,3,4,5,6], "title": "% of GPR articles"}}
 },
 "layer": [
  {"data": {"name": "nyt"}, "mark": {"type": "line", "clip": true, "strokeWidth": 4}, "encoding": {"color": {"datum": "N-NYT", "scale": {"domain": ["N-NYT","N-WAPO","N-CT","GPR Benchmark"], "range": ["#0072BD","#D95319","#EDB120","#0000FF"]}, "legend": {"legendX": 233, "legendY": 21, "symbolType": "M-4.8,0H4.8", "symbolSize": 100, "symbolStrokeWidth": 4.5, "symbolOffset": 14.5, "labelOffset": 19}}}},
  {"data": {"name": "wapo"}, "mark": {"type": "line", "clip": true, "strokeWidth": 4}, "encoding": {"color": {"datum": "N-WAPO"}}},
  {"data": {"name": "ct"}, "mark": {"type": "line", "clip": true, "strokeWidth": 4}, "encoding": {"color": {"datum": "N-CT"}}},
  {"data": {"name": "gpr"}, "mark": {"type": "line", "clip": true, "strokeWidth": 4}, "encoding": {"color": {"datum": "GPR Benchmark"}}}
 ]
},
{
 "title": "Business Newspapers Newspapers",
 "width": 469, "height": 319,
 "encoding": {
  "x": {"field": "t", "type": "quantitative", "scale": {"domain": [1985, 2017.58], "nice": false, "zero": false}, "axis": {"values": [1985,1990,1995,2000,2005,2010,2015], "format": "d", "title": null}},
  "y": {"field": "v", "type": "quantitative", "scale": {"domain": [0, 6], "nice": false}, "axis": {"values": [0,1,2,3,4,5,6], "title": "% of GPR articles"}}
 },
 "layer": [
  {"data": {"name": "wsj"}, "mark": {"type": "line", "clip": true, "strokeWidth": 4}, "encoding": {"color": {"datum": "N-WSJ", "scale": {"domain": ["N-WSJ","N-FT","GPR Benchmark"], "range": ["#0072BD","#D95319","#0000FF"]}, "legend": {"legendX": 21, "legendY": 21, "symbolType": "M-4.8,0H4.8", "symbolSize": 100, "symbolStrokeWidth": 4.5, "symbolOffset": 14.5, "labelOffset": 19}}}},
  {"data": {"name": "ft"}, "mark": {"type": "line", "clip": true, "strokeWidth": 4}, "encoding": {"color": {"datum": "N-FT"}}},
  {"data": {"name": "gpr"}, "mark": {"type": "line", "clip": true, "strokeWidth": 4}, "encoding": {"color": {"datum": "GPR Benchmark"}}}
 ]
},
{
 "title": "Other U.S. General Interest Newspapers",
 "width": 469, "height": 319,
 "encoding": {
  "x": {"field": "t", "type": "quantitative", "scale": {"domain": [1985, 2017.58], "nice": false, "zero": false}, "axis": {"values": [1985,1990,1995,2000,2005,2010,2015], "format": "d", "title": null}},
  "y": {"field": "v", "type": "quantitative", "scale": {"domain": [0, 6], "nice": false}, "axis": {"values": [0,1,2,3,4,5,6], "title": "% of GPR articles"}}
 },
 "layer": [
  {"data": {"name": "bg"}, "mark": {"type": "line", "clip": true, "strokeWidth": 4}, "encoding": {"color": {"datum": "N-BG", "scale": {"domain": ["N-BG","N-LAT","GPR Benchmark"], "range": ["#0072BD","#D95319","#0000FF"]}, "legend": {"legendX": 233, "legendY": 22, "symbolType": "M-4.8,0H4.8", "symbolSize": 100, "symbolStrokeWidth": 4.5, "symbolOffset": 14.5, "labelOffset": 19}}}},
  {"data": {"name": "lat"}, "mark": {"type": "line", "clip": true, "strokeWidth": 4}, "encoding": {"color": {"datum": "N-LAT"}}},
  {"data": {"name": "gpr"}, "mark": {"type": "line", "clip": true, "strokeWidth": 4}, "encoding": {"color": {"datum": "GPR Benchmark"}}}
 ]
},
{
 "title": "Foreign General Interest Newspapers",
 "width": 469, "height": 319,
 "encoding": {
  "x": {"field": "t", "type": "quantitative", "scale": {"domain": [1985, 2017.58], "nice": false, "zero": false}, "axis": {"values": [1985,1990,1995,2000,2005,2010,2015], "format": "d", "title": null}},
  "y": {"field": "v", "type": "quantitative", "scale": {"domain": [0, 6], "nice": false}, "axis": {"values": [0,1,2,3,4,5,6], "title": "% of GPR articles"}}
 },
 "layer": [
  {"data": {"name": "gam"}, "mark": {"type": "line", "clip": true, "strokeWidth": 4}, "encoding": {"color": {"datum": "N-GAM", "scale": {"domain": ["N-GAM","N-DT","N-GUA","N-TOL","GPR Benchmark"], "range": ["#0072BD","#D95319","#EDB120","#7E2F8E","#0000FF"]}, "legend": {"legendX": 21, "legendY": 22, "symbolType": "M-4.8,0H4.8", "symbolSize": 100, "symbolStrokeWidth": 4.5, "symbolOffset": 14.5, "labelOffset": 19}}}},
  {"data": {"name": "dt"}, "mark": {"type": "line", "clip": true, "strokeWidth": 4}, "encoding": {"color": {"datum": "N-DT"}}},
  {"data": {"name": "gua"}, "mark": {"type": "line", "clip": true, "strokeWidth": 4}, "encoding": {"color": {"datum": "N-GUA"}}},
  {"data": {"name": "tol"}, "mark": {"type": "line", "clip": true, "strokeWidth": 4}, "encoding": {"color": {"datum": "N-TOL"}}},
  {"data": {"name": "gpr"}, "mark": {"type": "line", "clip": true, "strokeWidth": 4}, "encoding": {"color": {"datum": "GPR Benchmark"}}}
 ]
}
]
}
